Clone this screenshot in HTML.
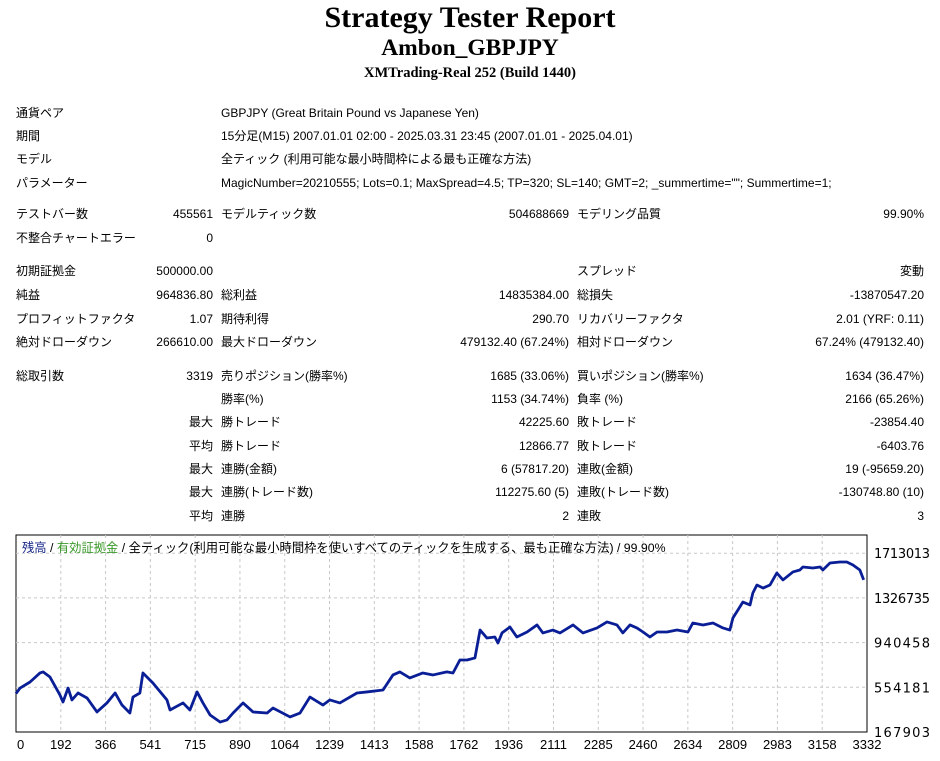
<!DOCTYPE html>
<html><head><meta charset="utf-8">
<style>
body{margin:0;width:940px;height:761px;background:#fff;position:relative;overflow:hidden;font-family:"Liberation Sans","Noto Sans CJK JP",sans-serif;font-size:12px;color:#000}
.t{position:absolute;white-space:nowrap;line-height:14px}
h1,h2,h3{position:absolute;margin:0;width:940px;text-align:center;font-family:"Liberation Serif",serif;font-weight:bold}
</style></head><body>
<h1 style="top:1px;font-size:30px">Strategy Tester Report</h1>
<h2 style="top:35px;font-size:23.5px">Ambon_GBPJPY</h2>
<h3 style="top:65px;font-size:14.5px">XMTrading-Real 252 (Build 1440)</h3>
<div id="tbl"></div>
<svg id="chart" width="940" height="761" style="position:absolute;left:0;top:0"></svg>
<script>
const rows=[
[106,"通貨ペア","","GBPJPY (Great Britain Pound vs Japanese Yen)","","",""],
[129,"期間","","15分足(M15) 2007.01.01 02:00 - 2025.03.31 23:45 (2007.01.01 - 2025.04.01)","","",""],
[152,"モデル","","全ティック (利用可能な最小時間枠による最も正確な方法)","","",""],
[176,"パラメーター","","MagicNumber=20210555; Lots=0.1; MaxSpread=4.5; TP=320; SL=140; GMT=2; _summertime=\"\"; Summertime=1;","","",""],
[207,"テストバー数","455561","モデルティック数","504688669","モデリング品質","99.90%"],
[231,"不整合チャートエラー","0","","","",""],
[264,"初期証拠金","500000.00","","","スプレッド","変動"],
[288,"純益","964836.80","総利益","14835384.00","総損失","-13870547.20"],
[312,"プロフィットファクタ","1.07","期待利得","290.70","リカバリーファクタ","2.01 (YRF: 0.11)"],
[335,"絶対ドローダウン","266610.00","最大ドローダウン","479132.40 (67.24%)","相対ドローダウン","67.24% (479132.40)"],
[369,"総取引数","3319","売りポジション(勝率%)","1685 (33.06%)","買いポジション(勝率%)","1634 (36.47%)"],
[392,"","","勝率(%)","1153 (34.74%)","負率 (%)","2166 (65.26%)"],
[415,"","最大","勝トレード","42225.60","敗トレード","-23854.40"],
[439,"","平均","勝トレード","12866.77","敗トレード","-6403.76"],
[462,"","最大","連勝(金額)","6 (57817.20)","連敗(金額)","19 (-95659.20)"],
[485,"","最大","連勝(トレード数)","112275.60 (5)","連敗(トレード数)","-130748.80 (10)"],
[509,"","平均","連勝","2","連敗","3"]];
const tbl=document.getElementById('tbl');
rows.forEach((r,i)=>{
 const cols=[[16,null],[null,213],[221,null],[null,569],[577,null],[null,924]];
 for(let c=0;c<6;c++){ if(!r[c+1])continue;
  const d=document.createElement('div');
  d.className='t';
  
  
  d.style.top=r[0]+'px';
  if(cols[c][0]!==null)d.style.left=cols[c][0]+'px'; else {d.style.right=(940-cols[c][1])+'px';}
  d.textContent=r[c+1]; tbl.appendChild(d);}
});

// Chart data
const trades=[0,16,55,94,106,133,172,184,204,219,243,278,317,356,388,415,446,458,485,497,536,591,603,654,681,709,732,760,799,826,850,889,928,983,1006,1073,1112,1151,1202,1229,1268,1335,1374,1437,1476,1503,1542,1593,1633,1687,1711,1738,1766,1797,1817,1844,1875,1887,1903,1934,1961,2001,2040,2063,2102,2130,2181,2220,2275,2314,2353,2376,2404,2431,2455,2482,2510,2549,2588,2631,2650,2690,2729,2768,2795,2807,2834,2846,2874,2885,2901,2925,2952,2979,3003,3042,3069,3081,3120,3148,3159,3187,3226,3253,3277,3304,3319];
const balance=[500,548,600,678,687,643,488,427,548,445,505,462,341,419,505,401,332,470,505,678,591,445,358,419,358,514,419,315,254,272,332,419,341,332,375,298,332,470,401,445,419,505,514,531,661,687,635,678,661,687,678,790,790,808,1049,980,989,937,1024,1075,989,1032,1093,1024,1049,1024,1093,1024,1067,1119,1093,1024,1093,1067,1032,989,1032,1032,1049,1032,1110,1093,1110,1067,1049,1153,1248,1291,1266,1369,1438,1412,1438,1542,1482,1551,1568,1594,1585,1594,1568,1628,1637,1637,1611,1568,1482];
const yTicks=[167903,554181,940458,1326735,1713013];
const xTicks=[0,192,366,541,715,890,1064,1239,1413,1588,1762,1936,2111,2285,2460,2634,2809,2983,3158,3332];
const L=16,R=867,T=535,B=732;
const X=t=>L+t/3332*(R-L);
const Y=v=>B-(v-167903)/386278*44.7;
const svg=document.getElementById('chart');const NS='http://www.w3.org/2000/svg';
function mk(tag,a){const e=document.createElementNS(NS,tag);for(const k in a)e.setAttribute(k,a[k]);svg.appendChild(e);return e;}
const frame=mk('rect',{x:L,y:T,width:R-L,height:B-T,fill:'#fff',stroke:'#000','stroke-width':1});


yTicks.forEach((v,i)=>{const y=Y(v);
 if(i>0){const g=mk('line',{x1:L,x2:R,y1:y,y2:y,stroke:'#c8c8c8','stroke-dasharray':'3,3'});
 
 }
 const tx=mk('text',{x:874,y:y+5,'font-size':13,'font-family':'DejaVu Sans, sans-serif','textLength':56});tx.textContent=v;
 
 });
xTicks.forEach((t,i)=>{const x=L+i*(R-L)/(xTicks.length-1);
 if(i>0&&i<xTicks.length-1){const g=mk('line',{x1:x,x2:x,y1:T,y2:B,stroke:'#c8c8c8','stroke-dasharray':'3,3'});
 
 }
 const tx=mk('text',{x:i==0?x+1:x,y:749,'font-size':13,'text-anchor':i==0?'start':'middle','font-family':'Liberation Sans, sans-serif'});tx.textContent=t;
 
 });
const line=mk('polyline',{points:trades.map((t,i)=>X(t)+','+Y(balance[i]*1000)).join(' '),fill:'none',stroke:'#0a1e96','stroke-width':2.8,'stroke-linejoin':'round'});


const lg=mk('text',{x:22,y:552,'font-size':12.3,'font-family':'Liberation Sans, Noto Sans CJK JP, sans-serif'});


lg.innerHTML='<tspan fill="#1a2a8a">残高</tspan> / <tspan fill="#3a9a2a">有効証拠金</tspan> / 全ティック(利用可能な最小時間枠を使いすべてのティックを生成する、最も正確な方法) / 99.90%';
</script>
</body></html>
